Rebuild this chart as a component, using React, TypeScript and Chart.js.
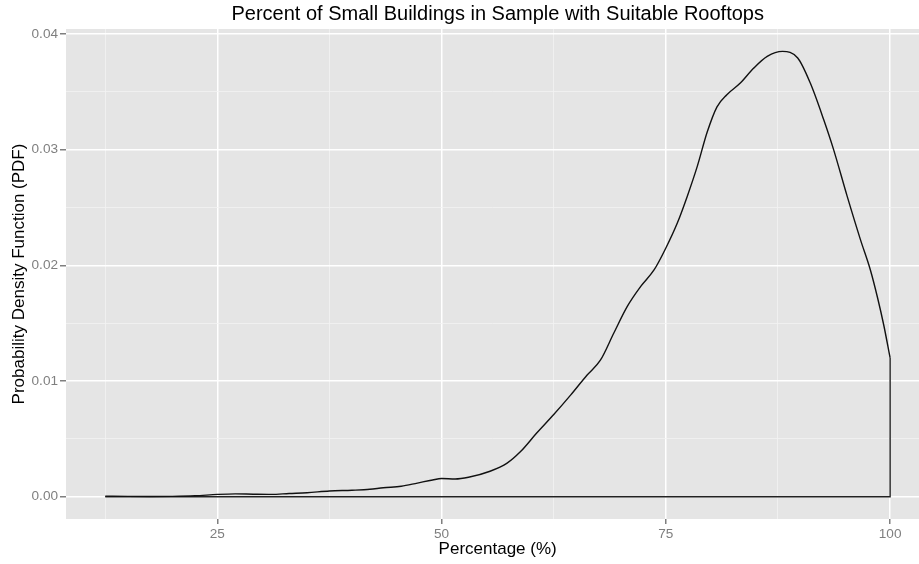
import { useEffect, useRef } from 'react';
import { Chart, registerables } from 'chart.js';

Chart.register(...registerables);

const chartTitle = 'Percent of Small Buildings in Sample with Suitable Rooftops';
const xAxisTitle = 'Percentage (%)';
const yAxisTitle = 'Probability Density Function (PDF)';

const densityX = [
  12.5, 15, 17.5, 20, 22.5, 25, 27, 29, 31, 33, 35, 37.5, 40, 42, 43.5, 45.5, 47.3, 49, 50,
  51.5, 53, 55.4, 57.3, 58.8, 60.6, 62.5, 64.4, 66.2, 67.7, 69.2, 70.7, 72.2, 73.7, 75,
  76.3, 77.4, 78.5, 79.6, 80.7, 81.8, 83.3, 84.8, 86.3, 88.0, 89.7, 91.1, 92.6, 93.7, 95.2,
  96.7, 97.8, 98.6, 99.3, 100,
];
const densityY = [
  0.00005, 0.00003, 0.00002, 0.00003, 0.00008, 0.0002, 0.00025, 0.00022, 0.0002, 0.00028,
  0.00035, 0.0005, 0.00056, 0.00064, 0.00078, 0.0009, 0.00118, 0.00145, 0.00157, 0.00153,
  0.00168, 0.0022, 0.0029, 0.0039, 0.0055, 0.0071, 0.0088, 0.0105, 0.0118, 0.01415, 0.01645,
  0.01818, 0.01962, 0.0215, 0.0237, 0.026, 0.02855, 0.0315, 0.0337, 0.03475, 0.03575,
  0.03705, 0.03806, 0.03849, 0.03792, 0.03575, 0.03258, 0.03, 0.026, 0.0222, 0.0196,
  0.0172, 0.0148, 0.012,
];

const xTicks = [12.5, 25, 37.5, 50, 62.5, 75, 87.5, 100];
const xTickLabels = ['25', '50', '75', '100'];
const yTicks = [0, 0.005, 0.01, 0.015, 0.02, 0.025, 0.03, 0.035, 0.04];
const yTickLabels = ['0.00', '0.01', '0.02', '0.03', '0.04'];

const X_LIM_LOW = 8.125;
const X_LIM_HIGH = 104.375;
const X_VISIBLE_MAX = 103.22;
const Y_MIN = -0.001925;
const Y_MAX = 0.040425;

const FONT = '"Liberation Sans", Arial, Helvetica, sans-serif';
const GREY = '#7f7f7f';

const xLabel = (v: number) => {
  const s = String(v);
  return xTickLabels.includes(s) ? s : '';
};
const yLabel = (v: number) => {
  const s = v.toFixed(3);
  const t = v.toFixed(2);
  return yTickLabels.includes(t) && Math.abs(parseFloat(s) - parseFloat(t)) < 1e-9 ? t : '';
};

export default function App() {
  const ref = useRef<HTMLCanvasElement>(null);

  useEffect(() => {
    const curve = densityX.map((x, i) => ({ x, y: densityY[i] }));
    const n = densityX.length;
    const outline = [
      { x: densityX[0], y: 0 },
      { x: densityX[n - 1], y: 0 },
      { x: densityX[n - 1], y: densityY[n - 1] },
    ];

    const decor = {
      id: 'decor',
      beforeDraw(chart: any) {
        const { ctx, chartArea: a } = chart;
        ctx.save();
        ctx.fillStyle = '#e5e5e5';
        ctx.fillRect(a.left, a.top, a.right - a.left, a.bottom - a.top);
        ctx.restore();
      },
      afterDraw(chart: any) {
        const { ctx, chartArea: a } = chart;
        const xs = chart.scales.x;
        const cx = xs.getPixelForValue((X_LIM_LOW + X_LIM_HIGH) / 2);
        ctx.save();
        ctx.fillStyle = '#000';
        ctx.textAlign = 'center';
        ctx.textBaseline = 'middle';
        ctx.font = `20px ${FONT}`;
        ctx.fillText(chartTitle, cx, 14);
        ctx.font = `17px ${FONT}`;
        ctx.fillText(xAxisTitle, cx, 549);
        ctx.translate(19, (a.top + a.bottom) / 2);
        ctx.rotate(-Math.PI / 2);
        ctx.fillText(yAxisTitle, 0, 0);
        ctx.restore();
      },
    };

    const gridColor = (label: (v: number) => string) => (c: any) =>
      c.tick && label(c.tick.value) !== '' ? '#ffffff' : '#f2f2f2';
    const gridWidth = (label: (v: number) => string) => (c: any) =>
      c.tick && label(c.tick.value) !== '' ? 1.5 : 0.8;
    const tickColor = (label: (v: number) => string) => (c: any) =>
      c.tick && label(c.tick.value) !== '' ? GREY : 'rgba(0,0,0,0)';

    const chart = new Chart(ref.current as HTMLCanvasElement, {
      type: 'scatter',
      data: {
        datasets: [
          {
            data: curve,
            showLine: true,
            borderColor: '#111111',
            borderWidth: 1.4,
            pointRadius: 0,
            cubicInterpolationMode: 'monotone',
            fill: false,
          } as any,
          {
            data: outline,
            showLine: true,
            borderColor: '#222222',
            borderWidth: 1.4,
            pointRadius: 0,
            tension: 0,
            fill: false,
          } as any,
        ],
      },
      options: {
        responsive: false,
        maintainAspectRatio: false,
        animation: false,
        layout: { padding: { top: 29, left: 0, right: 0, bottom: 0 } },
        plugins: {
          legend: { display: false },
          title: { display: false },
          tooltip: { enabled: false },
        },
        scales: {
          x: {
            type: 'linear',
            min: X_LIM_LOW,
            max: X_VISIBLE_MAX,
            afterBuildTicks: (s: any) => {
              s.ticks = xTicks.map((v) => ({ value: v }));
            },
            afterFit: (s: any) => {
              s.height = 45;
            },
            ticks: {
              autoSkip: false,
              maxRotation: 0,
              padding: 2,
              color: GREY,
              font: { family: FONT, size: 13.6 },
              callback: (v: any) => xLabel(Number(v)),
            },
            grid: {
              color: gridColor(xLabel),
              lineWidth: gridWidth(xLabel),
              tickColor: tickColor(xLabel),
              tickLength: 5,
              drawTicks: true,
            },
            border: { display: false },
          },
          y: {
            type: 'linear',
            min: Y_MIN,
            max: Y_MAX,
            afterBuildTicks: (s: any) => {
              s.ticks = yTicks.map((v) => ({ value: v }));
            },
            afterFit: (s: any) => {
              s.width = 66;
            },
            ticks: {
              autoSkip: false,
              padding: 2,
              color: GREY,
              font: { family: FONT, size: 13.6 },
              callback: (v: any) => yLabel(Number(v)),
            },
            grid: {
              color: gridColor(yLabel),
              lineWidth: gridWidth(yLabel),
              tickColor: tickColor(yLabel),
              tickLength: 6,
              drawTicks: true,
            },
            border: { display: false },
          },
        },
      } as any,
      plugins: [decor],
    });

    return () => chart.destroy();
  }, []);

  return (
    <div style={{ position: 'fixed', left: 0, top: 0, width: 919, height: 564, background: '#fff' }}>
      <canvas ref={ref} width={919} height={564} style={{ display: 'block', width: 919, height: 564 }} />
    </div>
  );
}
